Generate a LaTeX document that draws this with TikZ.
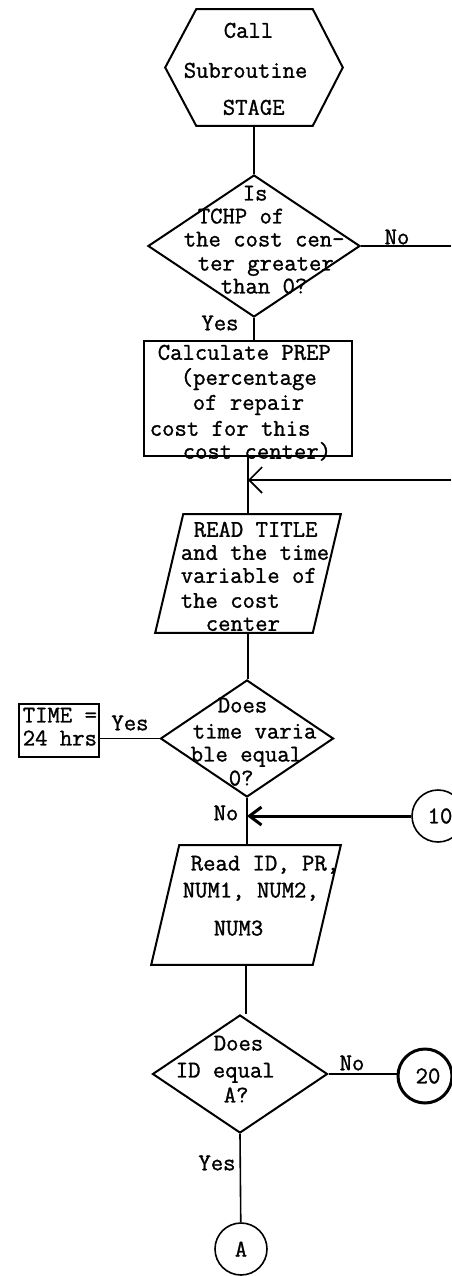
\documentclass[tikz,border=0pt]{standalone}
\usepackage{fontspec}
\setmonofont{Latin Modern Mono}[FakeBold=1.2]
\usetikzlibrary{shapes.geometric,arrows.meta}
\newcommand{\slantbox}[2]{%
  \draw[line width=2pt] ([xshift=#2]#1.north west) -- (#1.north east)
    -- ([xshift=-#2]#1.south east) -- (#1.south west) -- cycle;}
\begin{document}
\begin{tikzpicture}[x=1pt,y=-1pt,line width=1.6pt,
  lbl/.style={font=\fontsize{24}{23}\selectfont\ttfamily,inner sep=0pt},
  txt/.style={lbl,align=left,anchor=north west},
  proc/.style={draw,line width=2pt,inner sep=0pt},
  dec/.style={draw,diamond,line width=2pt,inner sep=0pt},
  conn/.style={draw,circle,minimum size=52pt,lbl},
  barb/.style={-{Straight Barb[length=13pt,width=26pt]}}]
\useasboundingbox (0,0) rectangle (451,1276);

\node[minimum width=176pt,minimum height=115pt] (stage) at (254,67.5) {};
\draw[line width=2pt] (stage.west) -- ([xshift=31pt]stage.north west)
  -- ([xshift=-30pt]stage.north east) -- (stage.east)
  -- ([xshift=-30pt]stage.south east) -- ([xshift=31pt]stage.south west) -- cycle;
\node[txt] at (183,22) {\hspace*{40pt}Call\\[17pt]Subroutine\\[14pt]\hspace*{39pt}STAGE};

\node[dec,minimum width=212pt,minimum height=142pt] (tchp) at (254,246) {};
\node[txt] at (183,185) {\hspace*{59pt}Is\\\hspace*{14pt}TCHP of\\the cost cen-\\[1pt]\hspace*{14pt}ter greater\\\hspace*{37pt}than 0?};

\node[proc,minimum width=208pt,minimum height=115pt] (prep) at (248,398.5) {};
\node[txt] at (149,344) {\hspace*{8pt}Calculate PREP\\[2pt]\hspace*{31pt}(percentage\\[2pt]\hspace*{43pt}of repair\\[3pt]cost for this\\\hspace*{33pt}cost center)};

\node[minimum width=184pt,minimum height=117pt] (title) at (248,573.5) {};
\slantbox{title}{28pt}
\node[txt] at (180,521) {\hspace*{13pt}READ TITLE\\and the time\\variable of\\[2pt]the cost\\\hspace*{25pt}center};

\node[dec,minimum width=173pt,minimum height=117pt] (tvar) at (247,738.5) {};
\node[txt] at (190,697) {\hspace*{27pt}Does\\[3pt]\hspace*{2pt}time varia\\ble equal\\[1pt]\hspace*{38pt}0?};

\node[proc,minimum width=80pt,minimum height=53pt] (time) at (59,730.5) {};
\node[txt] at (22,707) {TIME =\\24 hrs};

\node[minimum width=188pt,minimum height=118pt] (rid) at (246,905) {};
\slantbox{rid}{28pt}
\node[txt] at (182,855) {\hspace*{8pt}Read ID, PR,\\[4pt]NUM1, NUM2,\\[15pt]\hspace*{31pt}NUM3};

\node[dec,minimum width=175pt,minimum height=118pt] (ida) at (240,1074) {};
\node[txt] at (175,1035) {\hspace*{38pt}Does\\[4pt]ID equal\\[2pt]\hspace*{48pt}A?};

\node[conn] (c10) at (438,816) {\hspace*{4pt}10};
\node[conn,line width=3pt,minimum size=54pt] (c20) at (425,1076) {\hspace*{6pt}20};
\node[conn] (cA) at (241,1249) {A};

\coordinate (noR) at (451,251);
\coordinate (backR) at (451,480);

\draw (stage.south) -- (stage.south |- tchp.north);
\draw (tchp.east) -- (tchp.east -| noR);
\node[lbl] at (397,237) {No};
\draw (tchp.south) -- (tchp.south |- prep.north);
\node[lbl] at (220,323) {Yes};
\draw (prep.south) -- (prep.south |- title.north);
\draw[barb] (backR) -- (backR -| prep.south);
\draw (title.south) -- (title.south |- tvar.north);
\draw (tvar.west) -- (tvar.west -| time.east);
\node[lbl] at (130,723) {Yes};
\draw (tvar.south) -- (tvar.south |- rid.north);
\node[lbl] at (226,813) {No};
\draw[line width=3pt,-{Straight Barb[length=12pt,width=18pt]}] (c10) -- (c10 -| tvar.south);
\draw (rid.south) -- (rid.south |- ida.north);
\draw (ida.east) -- (ida.east -| c20.west);
\node[lbl] at (352,1063) {No};
\draw (ida.south) -- (cA);
\node[lbl] at (217,1163) {Yes};
\end{tikzpicture}
\end{document}
